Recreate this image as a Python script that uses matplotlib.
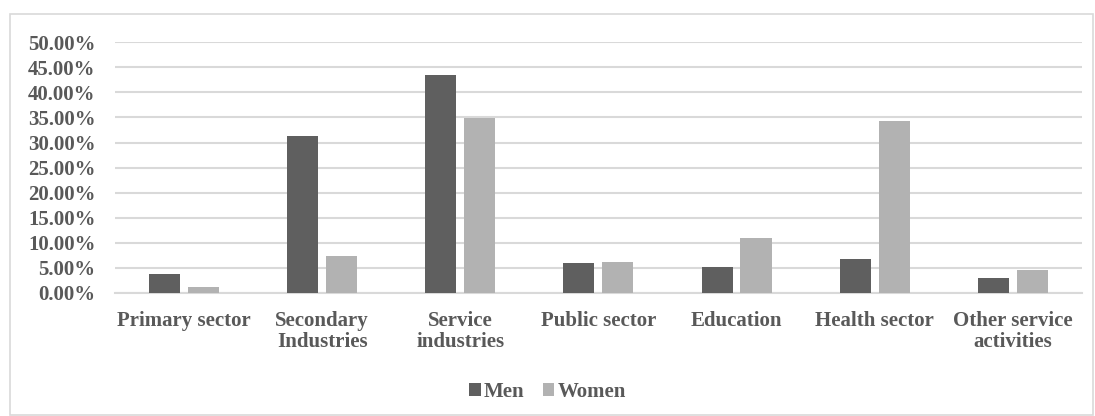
import matplotlib
matplotlib.use('Agg')
import matplotlib.pyplot as plt
import numpy as np
from matplotlib.patches import Rectangle

plt.rcParams['font.family'] = ['Liberation Serif', 'DejaVu Serif']
plt.rcParams['font.weight'] = 'bold'

categories = ['Primary sector', 'Secondary\nIndustries', 'Service\nindustries', 'Public sector',
              'Education', 'Health sector', 'Other service\nactivities']
men = [0.0373, 0.314, 0.434, 0.0587, 0.0507, 0.068, 0.0287]
women = [0.0114, 0.0727, 0.348, 0.062, 0.1092, 0.343, 0.0447]
yticks = np.arange(0, 0.501, 0.05)

txt = '#595959'
fs = 15
fig = plt.figure(figsize=(10.95, 4.16), dpi=100)
ax = fig.add_axes([0.105, 0.2964, 0.883, 0.6017])

x = np.arange(len(categories))
w = 0.225
off = 0.141
ax.bar(x - off, men, w, color='#5f5f5f', label='Men', zorder=3)
ax.bar(x + off, women, w, color='#b2b2b2', label='Women', zorder=3)

ax.set_xlim(-0.5, len(categories) - 0.5)
ax.set_ylim(0, 0.5)
ax.set_yticks(yticks)
ax.set_yticklabels(['%.2f%%' % (v * 100) for v in yticks], fontsize=fs, color=txt)
ax.set_xticks(x)
ax.set_xticklabels(categories, fontsize=fs, color=txt, linespacing=1.08)
ax.tick_params(length=0)
ax.tick_params(axis='y', pad=14)
ax.tick_params(axis='x', pad=13)
ax.yaxis.grid(True, color='#d9d9d9', linewidth=1.5, zorder=0)
for s in ['top', 'right', 'left']:
    ax.spines[s].set_visible(False)
ax.spines['bottom'].set_color('#d9d9d9')
ax.spines['bottom'].set_linewidth(1.5)

leg = fig.legend(loc='center', bbox_to_anchor=(0.5, 0.058), ncol=2, frameon=False,
                 fontsize=fs, handlelength=0.56, handleheight=0.56, handletextpad=0.15,
                 columnspacing=0.87, borderpad=0)
for t in leg.get_texts():
    t.set_color(txt)

fig.patches.append(Rectangle((10 / 1095, 1 / 416), 1083 / 1095, 401 / 416, transform=fig.transFigure,
                             fill=False, edgecolor='#d9d9d9', linewidth=1.2))

fig.savefig('out.png', dpi=100)
